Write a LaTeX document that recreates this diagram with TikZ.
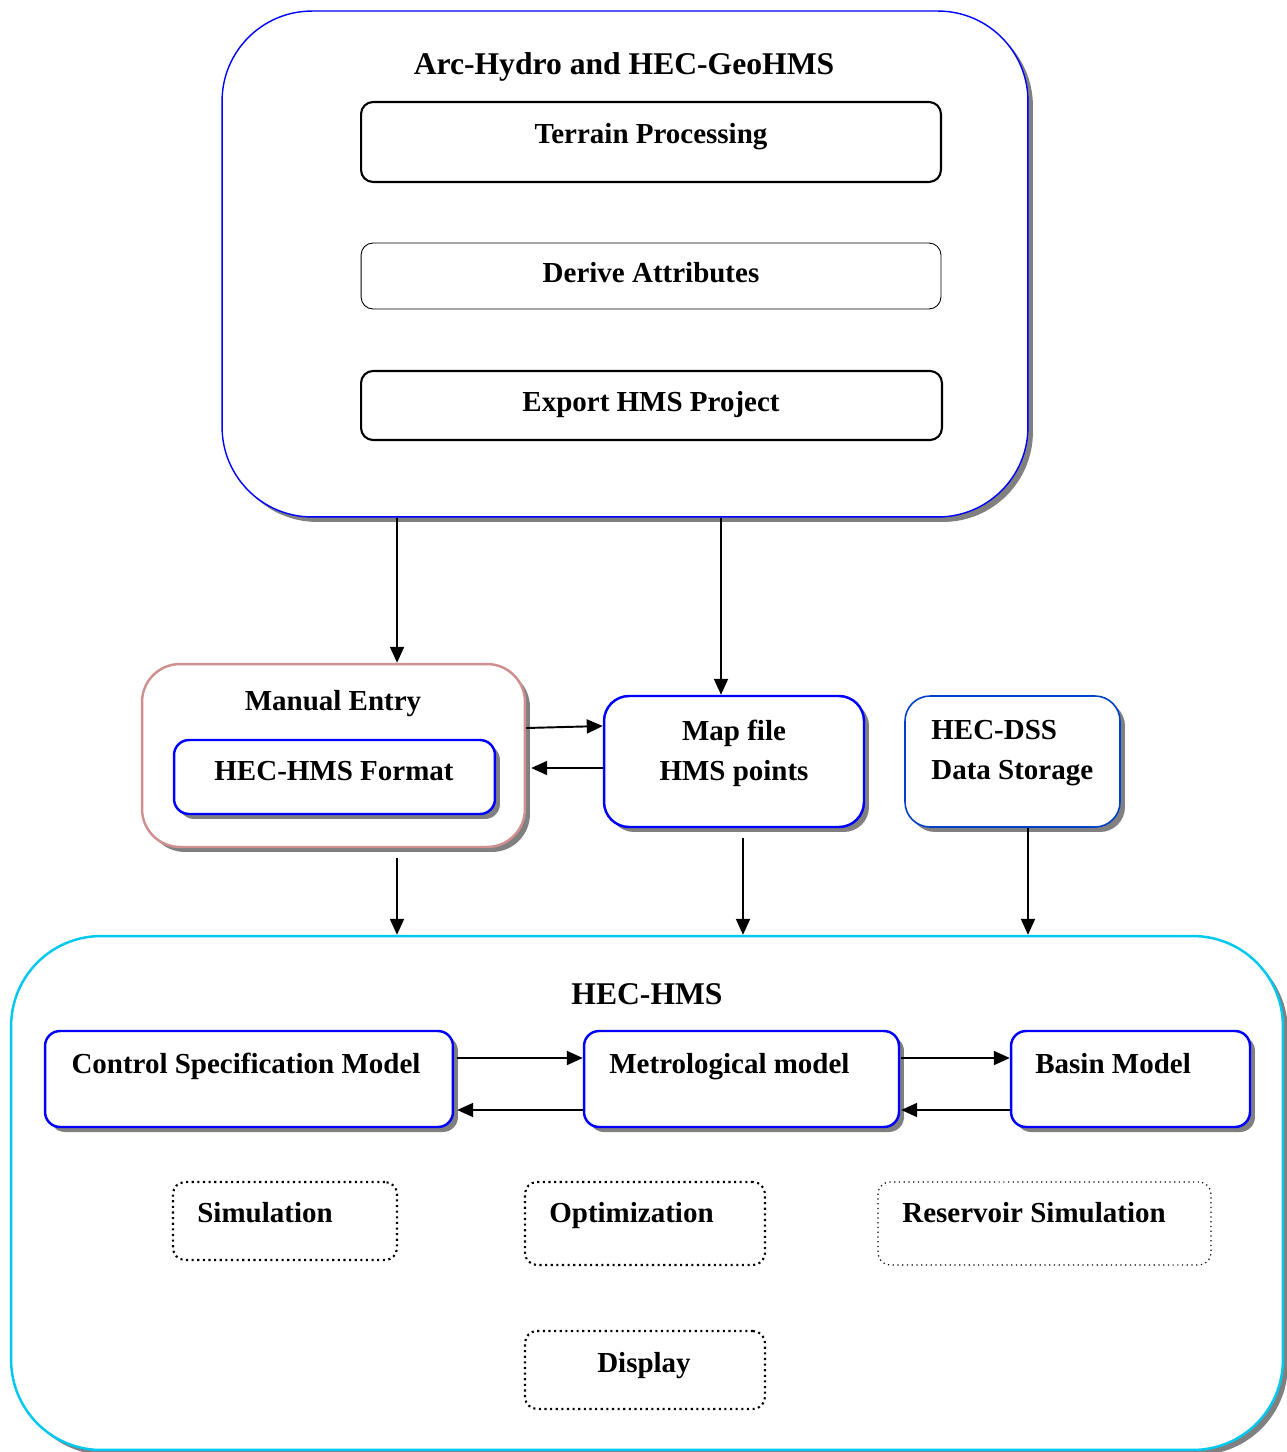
\documentclass[tikz,border=0pt]{standalone}
\usepackage{fontspec}
\setmainfont{Liberation Serif}
\usetikzlibrary{shadows,arrows.meta}

\definecolor{pinkline}{RGB}{208,144,144}
\definecolor{cyanline}{RGB}{0,200,240}
\definecolor{dssblue}{RGB}{0,64,200}

\tikzset{
  txt/.style={font=\fontsize{16.5}{22.7}\selectfont\bfseries, inner sep=0pt, yshift=-0.11cm,
    text height=0.7em, text depth=0.22em},
  bigtxt/.style={font=\fontsize{18}{22}\selectfont\bfseries, inner sep=0pt, yshift=-0.06cm},
  frame/.style={draw, rounded corners=#1, inner sep=0pt, fill=white},
  shade/.style={drop shadow={shadow xshift=0.1cm, shadow yshift=-0.1cm, fill=gray, opacity=1}},
  bluebox/.style={frame=0.3cm, draw=blue, line width=1.4pt, shade},
  dotbox/.style={frame=0.24cm, dotted, line width=1.2pt},
  link/.style={-{Triangle[length=0.32cm,width=0.28cm]}, line width=1.1pt},
}

\begin{document}
\begin{tikzpicture}[x=0.02cm,y=-0.02cm]
\useasboundingbox (0,0) rectangle (1286,1452);

% Arc-Hydro part
\node[frame=1.8cm, draw=blue, line width=0.8pt, shade, minimum width=16.12cm, minimum height=10.12cm] (arc) at (625,264) {};
\node[bigtxt] (arct) at (624,64) {Arc-Hydro and HEC-GeoHMS};
\node[frame=0.24cm, line width=1.2pt, minimum width=11.6cm, minimum height=1.6cm] (terrain) at (651,142) {};
\node[txt] (terraint) at (651,134) {Terrain Processing};
\node[frame=0.24cm, line width=0.5pt, minimum width=11.6cm, minimum height=1.32cm] (derive) at (651,276) {};
\node[txt] (derivet) at (651,273) {Derive Attributes};
\node[frame=0.24cm, line width=1.2pt, minimum width=11.62cm, minimum height=1.38cm] (export) at (651.5,405.5) {};
\node[txt] (exportt) at (651,402) {Export HMS Project};

% middle row
\node[frame=0.76cm, draw=pinkline, line width=1.4pt, shade, minimum width=7.66cm, minimum height=3.66cm] (mentry) at (333.5,755.5) {};
\node[txt] (mentryt) at (333,701) {Manual Entry};
\node[bluebox, minimum width=6.42cm, minimum height=1.48cm] (format) at (334.5,777) {};
\node[txt] (formatt) at (334,771) {HEC-HMS Format};
\node[bluebox, frame=0.5cm, minimum width=5.2cm, minimum height=2.62cm] (map) at (734,761.5) {};
\node[txt, text height=, text depth=, yshift=0.05cm, align=center] (mapt) at (734,750) {Map file\\HMS points};
\node[bluebox, frame=0.5cm, draw=dssblue, line width=0.9pt, minimum width=4.3cm, minimum height=2.62cm] (dss) at (1012.5,761.5) {};
\node[txt, text height=, text depth=, yshift=0.05cm, align=left, anchor=west] (dsst) at (931,750) {HEC-DSS\\Data Storage};

% HEC-HMS part
\node[frame=1.8cm, draw=cyanline, line width=1.4pt, shade, minimum width=25.44cm, minimum height=10.28cm] (hms) at (647,1193) {};
\node[bigtxt] (hmst) at (647,991) {HEC-HMS};
\node[bluebox, minimum width=8.16cm, minimum height=1.92cm] (csm) at (249,1079) {};
\node[txt] (csmt) at (246,1064) {Control Specification Model};
\node[bluebox, minimum width=6.3cm, minimum height=1.92cm] (metro) at (741.5,1079) {};
\node[txt, anchor=west] (metrot) at (609,1064) {Metrological model};
\node[bluebox, minimum width=4.78cm, minimum height=1.92cm] (basin) at (1130.5,1079) {};
\node[txt, anchor=west] (basint) at (1035,1064) {Basin Model};
\node[dotbox, minimum width=4.48cm, minimum height=1.56cm] (sim) at (285,1221) {};
\node[txt, anchor=west] (simt) at (197,1213) {Simulation};
\node[dotbox, minimum width=4.8cm, minimum height=1.66cm] (opt) at (645,1223.5) {};
\node[txt, anchor=west] (optt) at (549,1213) {Optimization};
\node[dotbox, line width=0.7pt, minimum width=6.66cm, minimum height=1.66cm] (res) at (1044.5,1223.5) {};
\node[txt, anchor=west] (rest) at (902,1213) {Reservoir Simulation};
\node[dotbox, minimum width=4.8cm, minimum height=1.56cm] (disp) at (645,1370) {};
\node[txt] (dispt) at (644,1363) {Display};

% connectors
\draw[link] ([xshift=-4.56cm]arc.south) coordinate (a1) -- (a1 |- mentry.north);
\draw[link] ([xshift=1.92cm]arc.south) coordinate (a2) -- (a2 |- map.north);
\draw[link] ([yshift=0.55cm]mentry.east) -- ([yshift=0.71cm]map.west);
\draw[link] ([yshift=-0.13cm]map.west) -- ([yshift=-0.25cm,xshift=0.1cm]mentry.east);
\draw[link] ([xshift=1.27cm,yshift=-0.2cm]mentry.south) coordinate (a3) -- (a3 |- hms.north);
\draw[link] ([xshift=0.18cm,yshift=-0.2cm]map.south) coordinate (a4) -- (a4 |- hms.north);
\draw[link] ([xshift=0.31cm]dss.south) coordinate (a5) -- (a5 |- hms.north);
\draw[link] ([yshift=0.42cm,xshift=0.06cm]csm.east) coordinate (b1) -- (b1 -| metro.west);
\draw[link] ([yshift=-0.62cm]metro.west) coordinate (b2) -- ([xshift=0.06cm]b2 -| csm.east);
\draw[link] ([yshift=0.42cm,xshift=0.02cm]metro.east) coordinate (b3) -- (b3 -| basin.west);
\draw[link] ([yshift=-0.62cm]basin.west) coordinate (b4) -- ([xshift=0.02cm]b4 -| metro.east);
\end{tikzpicture}
\end{document}
